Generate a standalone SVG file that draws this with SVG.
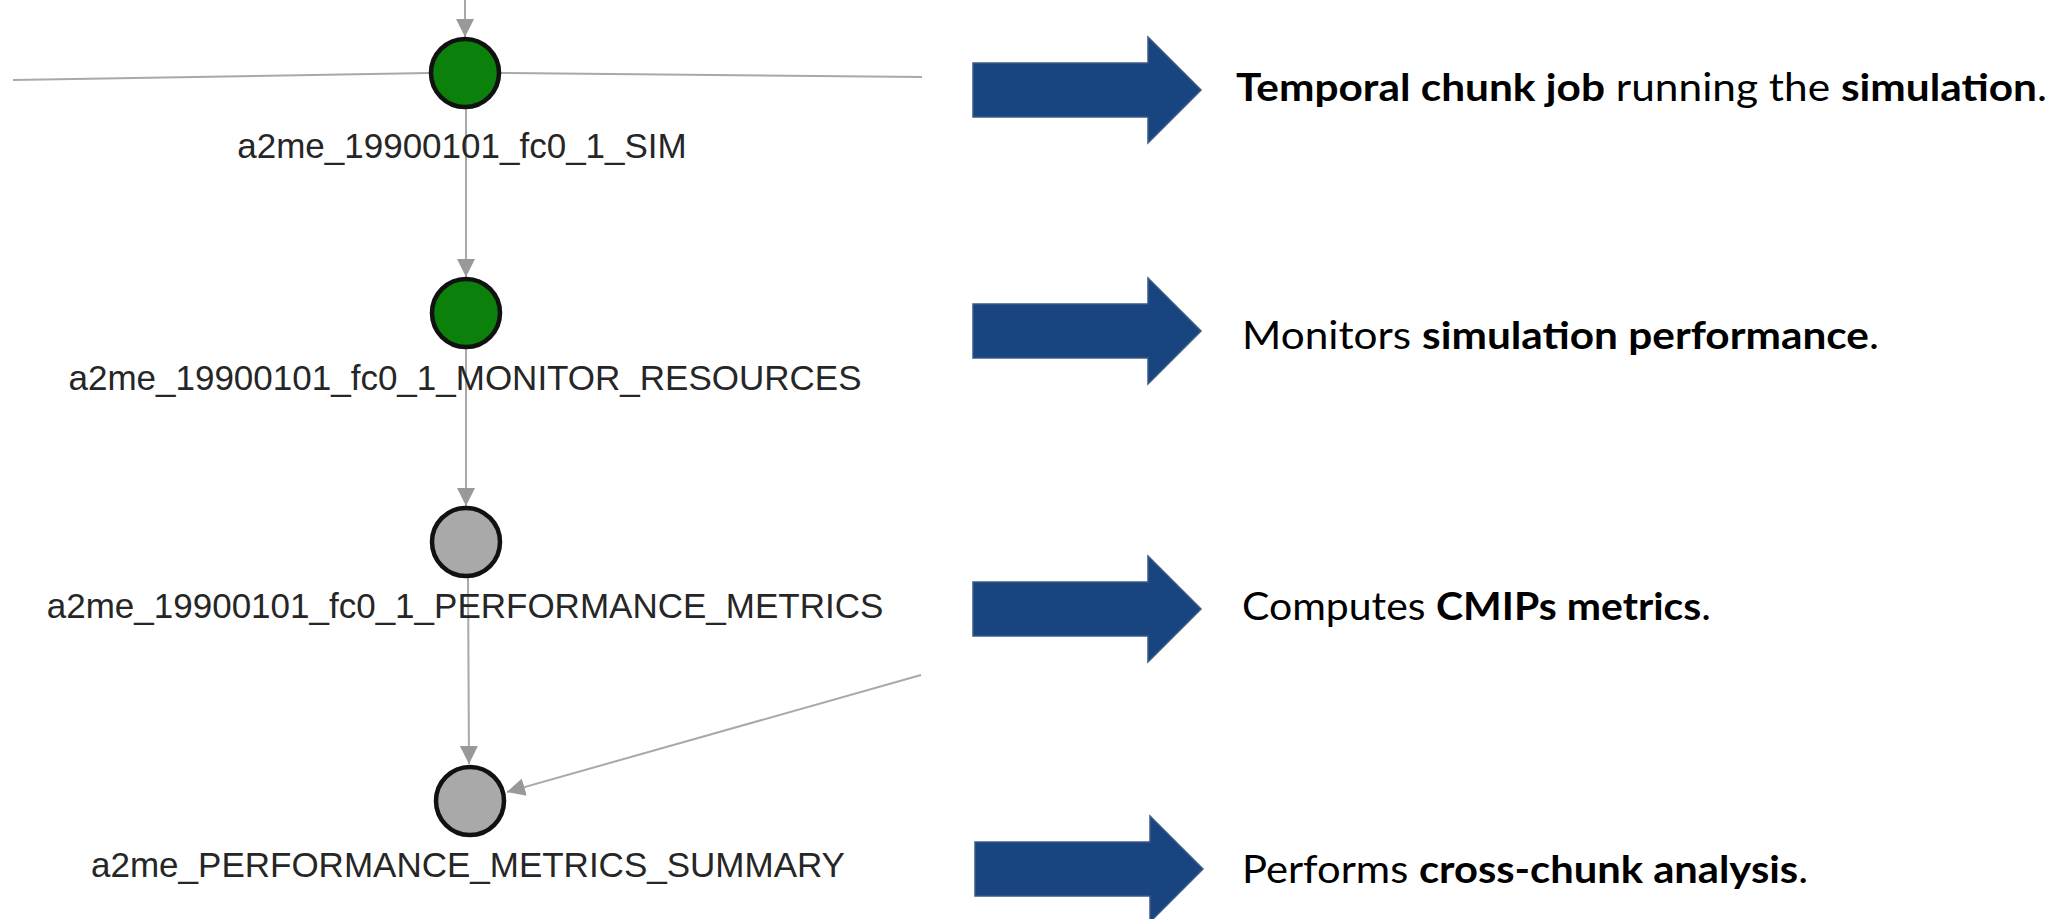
<svg xmlns="http://www.w3.org/2000/svg" xmlns:xlink="http://www.w3.org/1999/xlink" width="2067" height="919" viewBox="0 0 2067 919">
  <style>
    .edge { stroke: #a9a9a9; stroke-width: 2; fill: none; }
    .job { stroke: #111; stroke-width: 4.5; }
    .done { fill: #0b800b; }
    .wait { fill: #a9a9a9; }
    .lbl { font-family: "Liberation Sans", Arial, sans-serif; font-size: 35px; fill: #262626; text-anchor: middle; }
    .desc { font-family: Lato, "Open Sans", sans-serif; font-size: 38px; fill: #000; }
    .b { font-weight: bold; }
    .barrow { fill: #18447f; stroke: #3b5a85; stroke-width: 1.5; }
  </style>
  <defs>
    <marker id="ah" viewBox="0 0 10 10" refX="10" refY="5" markerWidth="18" markerHeight="18" markerUnits="userSpaceOnUse" orient="auto">
      <path d="M0,0 L10,5 L0,10 z" fill="#999"/>
    </marker>
    <path id="bigArrow" d="M0,-27 L175,-27 L175,-53 L228,0 L175,53 L175,27 L0,27 z"/>
  </defs>

  <g id="connectors">
    <line class="edge" x1="13" y1="80" x2="430" y2="73"/>
    <line class="edge" x1="500" y1="73" x2="922" y2="77"/>
    <line class="edge" x1="465" y1="0" x2="465" y2="37" marker-end="url(#ah)"/>
    <line class="edge" x1="466" y1="108" x2="466" y2="277" marker-end="url(#ah)"/>
    <line class="edge" x1="466" y1="348" x2="466" y2="506" marker-end="url(#ah)"/>
    <line class="edge" x1="468" y1="577" x2="469" y2="764" marker-end="url(#ah)"/>
    <line class="edge" x1="921" y1="675" x2="507" y2="792" marker-end="url(#ah)"/>
  </g>

  <g id="node-sim">
    <circle class="job done" cx="465" cy="73" r="34"/>
    <text class="lbl" x="462" y="158">a2me_19900101_fc0_1_SIM</text>
  </g>
  <g id="node-monitor">
    <circle class="job done" cx="466" cy="313" r="34"/>
    <text class="lbl" x="465" y="390">a2me_19900101_fc0_1_MONITOR_RESOURCES</text>
  </g>
  <g id="node-perf">
    <circle class="job wait" cx="466" cy="542" r="34"/>
    <text class="lbl" x="465" y="618">a2me_19900101_fc0_1_PERFORMANCE_METRICS</text>
  </g>
  <g id="node-summary">
    <circle class="job wait" cx="470" cy="801" r="34"/>
    <text class="lbl" x="468" y="877">a2me_PERFORMANCE_METRICS_SUMMARY</text>
  </g>

  <g id="note-sim">
    <use xlink:href="#bigArrow" class="barrow" transform="translate(973,90)"/>
    <text class="desc" x="1236" y="101" textLength="811" lengthAdjust="spacingAndGlyphs"><tspan class="b">Temporal chunk job</tspan> running the <tspan class="b">simulation</tspan>.</text>
  </g>
  <g id="note-monitor">
    <use xlink:href="#bigArrow" class="barrow" transform="translate(973,331)"/>
    <text class="desc" x="1242" y="349" textLength="637" lengthAdjust="spacingAndGlyphs">Monitors <tspan class="b">simulation performance</tspan>.</text>
  </g>
  <g id="note-perf">
    <use xlink:href="#bigArrow" class="barrow" transform="translate(973,609)"/>
    <text class="desc" x="1242" y="620" textLength="469" lengthAdjust="spacingAndGlyphs">Computes <tspan class="b">CMIPs metrics</tspan>.</text>
  </g>
  <g id="note-summary">
    <use xlink:href="#bigArrow" class="barrow" transform="translate(975,869)"/>
    <text class="desc" x="1242" y="883" textLength="566" lengthAdjust="spacingAndGlyphs">Performs <tspan class="b">cross-chunk analysis</tspan>.</text>
  </g>
</svg>
